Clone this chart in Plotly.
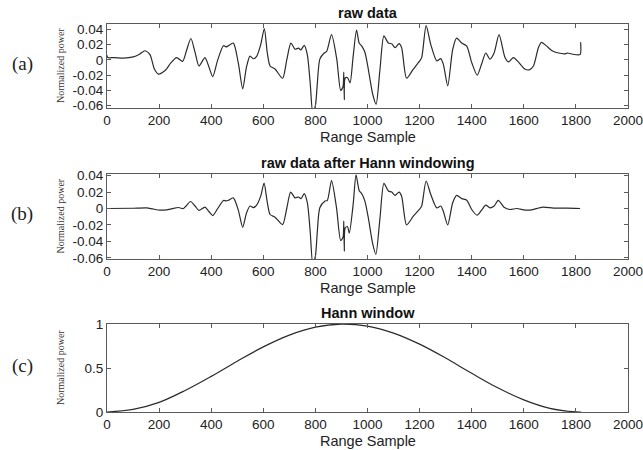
import plotly.graph_objects as go

# ---- data ----
raw_x = [0, 3, 30, 63, 101, 125, 146, 165, 182, 197, 223, 245, 267, 290, 305, 322, 338, 353, 376, 392,
         406, 425, 447, 457, 466, 485, 504, 521, 535, 549, 562, 575, 590, 604, 615, 626, 645, 674, 690,
         706, 722, 735, 744, 757, 769, 780, 790, 800, 807, 817, 834, 843, 862, 882, 897, 906, 909, 911,
         914, 923, 933, 945, 958, 968, 978, 990, 1003, 1020, 1033, 1048, 1063, 1080, 1093, 1106, 1121,
         1131, 1150, 1176, 1199, 1208, 1225, 1243, 1266, 1281, 1291, 1308, 1327, 1342, 1362, 1381, 1400,
         1421, 1438, 1454, 1470, 1486, 1505, 1528, 1541, 1560, 1579, 1604, 1621, 1637, 1656, 1668, 1688,
         1707, 1733, 1759, 1768, 1784, 1816, 1818]
raw_y = [0.006, 0.003, 0.003, 0.0023, 0.004, 0.0075, 0.012, 0.007, -0.012, -0.0186, -0.014, -0.004,
         0.003, -0.002, 0.012, 0.028, 0.010, -0.008, 0.003, -0.010, -0.022, 0.000, 0.0186, 0.017, 0.0186,
         0.022, -0.004, -0.038, -0.010, 0.005, 0.0015, 0.005, 0.020, 0.041, 0.010, -0.008, -0.012, -0.024,
         0.000, 0.022, 0.014, 0.0155, 0.013, 0.019, 0.007, -0.030, -0.070, -0.060, -0.033, 0.001, 0.009,
         0.011, 0.033, 0.001, -0.040, -0.035, -0.016, -0.052, -0.024, -0.023, -0.030, 0.005, 0.039, 0.022,
         0.018, 0.010, -0.012, -0.045, -0.058, -0.012, 0.0315, 0.022, 0.021, 0.016, 0.0213, 0.016, -0.024,
         -0.012, -0.002, 0.003, 0.045, 0.020, -0.0013, 0.0017, -0.0055, -0.034, 0.0136, 0.0285, 0.022,
         0.018, -0.0034, -0.020, -0.0055, 0.009, 0.001, 0.009, 0.033, 0.003, -0.0026, 0.003, -0.0026,
         -0.012, -0.013, -0.008, 0.016, 0.023, 0.018, 0.0124, 0.009, 0.008, 0.009, 0.0077, 0.007, 0.023]

win_data_x = [0, 100, 114, 152, 175, 203, 229, 250, 274, 293, 321, 338, 353, 376, 392, 406, 425, 447, 457,
              466, 485, 504, 521, 535, 549, 562, 575, 590, 603, 615, 626, 645, 674, 690, 705, 722, 735, 745,
              757, 769, 780, 790, 800, 807, 817, 837, 846, 862, 881, 897, 906, 909, 911, 914, 923, 930, 945,
              956, 968, 978, 990, 1003, 1020, 1032, 1048, 1063, 1080, 1093, 1106, 1121, 1131, 1150, 1176,
              1199, 1208, 1225, 1243, 1266, 1281, 1291, 1308, 1327, 1342, 1362, 1381, 1400, 1421, 1438, 1454,
              1470, 1486, 1502, 1524, 1547, 1573, 1605, 1631, 1673, 1714, 1765, 1816]
win_data_y = [0.0, 0.0003, 0.0004, 0.0008, -0.0005, -0.002, -0.0016, -0.0002, 0.0012, 0.0, 0.0085, 0.003,
              -0.0024, 0.0016, -0.004, -0.0086, 0.0, 0.0098, 0.0092, 0.010, 0.013, -0.002, -0.023, -0.006,
              0.003, 0.001, 0.0045, 0.015, 0.031, 0.008, -0.0073, -0.0106, -0.0196, 0.0, 0.020, 0.013, 0.014,
              0.012, 0.018, 0.007, -0.028, -0.068, -0.058, -0.030, 0.001, 0.009, 0.010, 0.034, 0.001, -0.039,
              -0.035, -0.0155, -0.052, -0.024, -0.022, -0.030, 0.005, 0.041, 0.022, 0.018, 0.009, -0.011,
              -0.043, -0.056, -0.0114, 0.0306, 0.0212, 0.020, 0.016, 0.020, 0.015, -0.020, -0.0094, -0.0012,
              0.003, 0.0335, 0.017, 0.0008, 0.003, -0.0033, -0.020, 0.007, 0.016, 0.012, 0.010, -0.0012,
              -0.0082, -0.002, 0.004, 0.0008, 0.003, 0.0098, 0.0016, -0.0012, 0.0, -0.002, -0.0016, 0.0016,
              0.0004, 0.0004, 0.0]

hann_x = [0, 100, 200, 300, 400, 500, 600, 700, 800, 900, 1000, 1100, 1200, 1300, 1400, 1500, 1600,
          1700, 1800, 1820]
hann_y = [0.0, 0.03, 0.11, 0.245, 0.405, 0.577, 0.74, 0.874, 0.964, 0.999, 0.976, 0.897, 0.771, 0.613,
          0.44, 0.275, 0.138, 0.042, 0.001, 0.0]

x_ticks = [0, 200, 400, 600, 800, 1000, 1200, 1400, 1600, 1800, 2000]
y_ticks_ab = [-0.06, -0.04, -0.02, 0, 0.02, 0.04]
y_tick_text_ab = ["-0.06", "-0.04", "-0.02", "0", "0.02", "0.04"]
y_ticks_c = [0, 0.5, 1]
y_tick_text_c = ["0", "0.5", "1"]

titles = ["raw data", "raw data after Hann windowing", "Hann window"]
panel_labels = ["(a)", "(b)", "(c)"]
x_label = "Range Sample"
y_label = "Normalized power"

# ---- layout geometry ----
W, H = 643, 450
LEFT, RIGHT = 107, 628
boxes = [(24, 108), (174, 259), (324, 412)]  # top, bottom in px
yranges = [[-0.063, 0.047], [-0.0615, 0.042], [0, 1]]

LINE = "#2b2b2b"
AX = "#5a5a5a"
FONT = "Arial, Liberation Sans, sans-serif"

fig = go.Figure()
series = [(raw_x, raw_y, 0.7), (win_data_x, win_data_y, 0.7), (hann_x, hann_y, 1.0)]
for i, (xs, ys, sm) in enumerate(series):
    sfx = "" if i == 0 else str(i + 1)
    fig.add_trace(go.Scatter(x=xs, y=ys, mode="lines",
                             line=dict(color=LINE, width=1.2, shape="spline", smoothing=sm),
                             xaxis="x" + sfx, yaxis="y" + sfx, showlegend=False, hoverinfo="skip"))

layout = dict(width=W, height=H, margin=dict(l=0, r=0, t=0, b=0, autoexpand=False),
              paper_bgcolor="white", plot_bgcolor="white", showlegend=False,
              font=dict(family=FONT, size=13.5, color="#222"))
annotations = []
for i, (top, bot) in enumerate(boxes):
    sfx = "" if i == 0 else str(i + 1)
    yd = [1 - bot / H, 1 - top / H]
    common = dict(showline=True, mirror="ticks", linecolor=AX, linewidth=1, ticks="inside",
                  ticklen=4, tickcolor=AX, showgrid=False, zeroline=False, automargin=False,
                  ticklabeloverflow="allow",
                  tickfont=dict(family=FONT, size=13.5, color="#222"))
    layout["xaxis" + sfx] = dict(domain=[LEFT / W, RIGHT / W], range=[0, 2000], tickvals=x_ticks,
                                 anchor="y" + sfx, **common)
    if i < 2:
        yv, yt = y_ticks_ab, y_tick_text_ab
    else:
        yv, yt = y_ticks_c, y_tick_text_c
    layout["yaxis" + sfx] = dict(domain=yd, range=yranges[i], tickvals=yv, ticktext=yt,
                                 anchor="x" + sfx, **common)
    cx = (LEFT + RIGHT) / 2 / W
    annotations.append(dict(text="<b>%s</b>" % titles[i], x=cx, y=1 - (top - 11) / H,
                            xref="paper", yref="paper", showarrow=False,
                            font=dict(family=FONT, size=14.5, color="#111"),
                            xanchor="center", yanchor="middle"))
    annotations.append(dict(text=x_label, x=cx, y=1 - (bot + 29) / H, xref="paper", yref="paper",
                            showarrow=False, font=dict(family=FONT, size=14.5, color="#222"),
                            xanchor="center", yanchor="middle"))
    annotations.append(dict(text=y_label, x=60 / W, y=1 - (top + bot) / 2 / H, xref="paper",
                            yref="paper", showarrow=False, textangle=-90,
                            font=dict(family="Liberation Serif, Times New Roman, serif", size=10,
                                      color="#333"),
                            xanchor="center", yanchor="middle"))
    annotations.append(dict(text=panel_labels[i], x=22 / W, y=1 - (top + bot) / 2 / H + 0.005,
                            xref="paper", yref="paper", showarrow=False,
                            font=dict(family="Liberation Serif, Times New Roman, serif", size=19,
                                      color="#222"),
                            xanchor="center", yanchor="middle"))
layout["annotations"] = annotations
fig.update_layout(**layout)
fig.write_html("out.html", config={"displayModeBar": False},
               post_script="document.body.style.margin='0';document.body.style.overflow='hidden';")
